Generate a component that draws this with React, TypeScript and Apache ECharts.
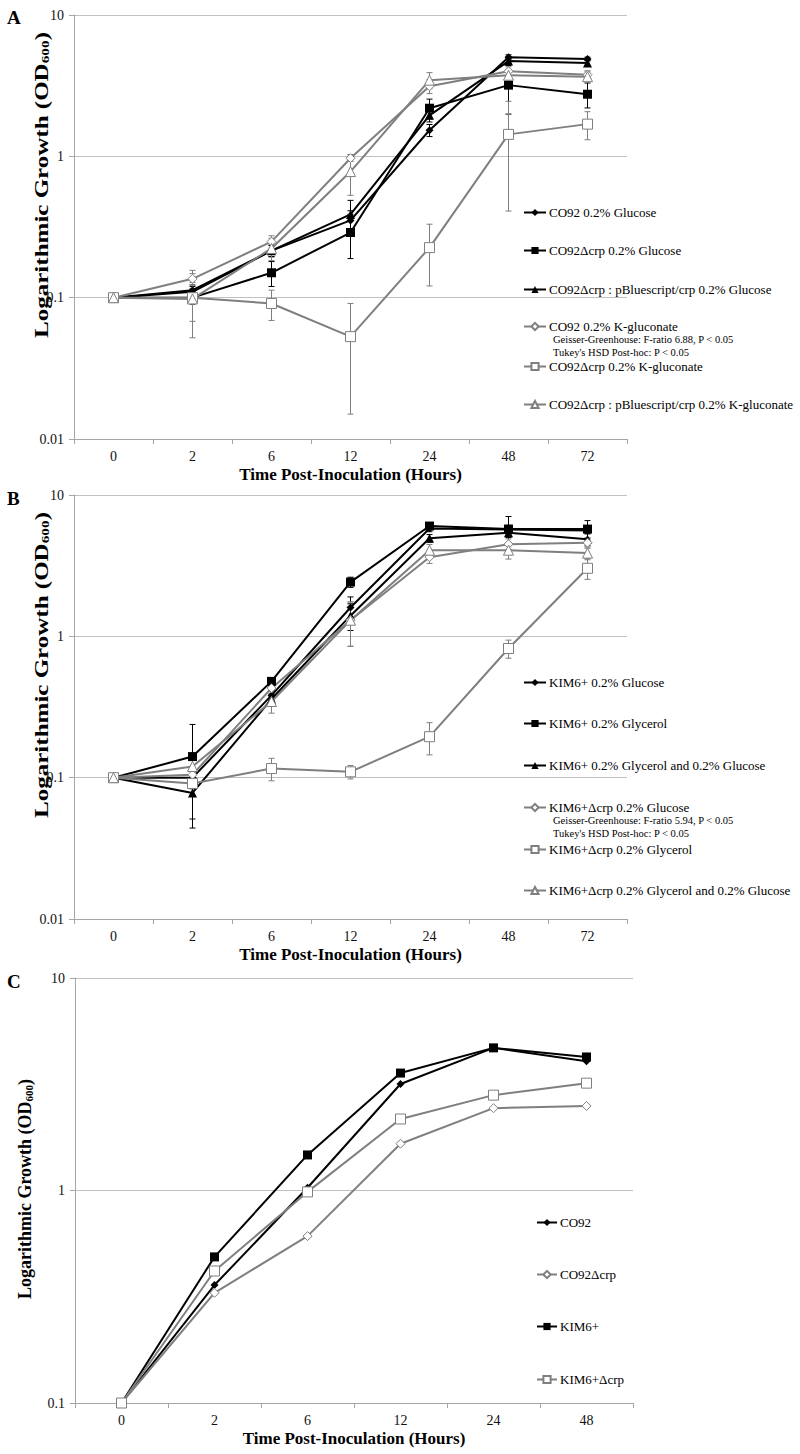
import React, { useEffect, useRef } from "react";
import * as echarts from "echarts";

// ---------- DATA ----------
const hoursAB = ["0", "2", "6", "12", "24", "48", "72"];
const hoursC = ["0", "2", "6", "12", "24", "48"];
const yTicksAB = [0.01, 0.1, 1, 10];
const yTicksC = [0.1, 1, 10];

// Panel A
const aCO92Glc = [0.1, 0.113, 0.215, 0.352, 1.53, 5.03, 4.88];
const aCrpGlc = [0.1, 0.1, 0.15, 0.289, 2.19, 3.19, 2.75];
const aCompGlc = [0.1, 0.11, 0.215, 0.388, 1.95, 4.72, 4.57];
const aCO92Kg = [0.1, 0.136, 0.249, 0.97, 3.13, 4.0, 3.78];
const aCrpKg = [0.1, 0.1, 0.091, 0.053, 0.226, 1.43, 1.69];
const aCompKg = [0.1, 0.098, 0.223, 0.78, 3.46, 3.75, 3.66];
const aCO92GlcSd = [0, 0.01, 0.02, 0.06, 0.15, 0.2, 0.15];
const aCrpGlcSd = [0, 0.01, 0.03, 0.1, 0.35, 1.2, 0.55];
const aCompGlcSd = [0, 0.01, 0.02, 0.1, 0.2, 0.2, 0.2];
const aCO92KgSd = [0, 0.02, 0.025, 0.05, 0.35, 0.3, 0.25];
const aCrpKgSd = [0, 0.048, 0.022, 0.038, 0.105, 1.02, 0.38];
const aCompKgSd = [0, 0.03, 0.04, 0.25, 0.45, 0.35, 0.3];

// Panel B
const bKimGlc = [0.1, 0.1, 0.382, 1.6, 5.8, 5.7, 5.6];
const bKimGly = [0.1, 0.141, 0.48, 2.42, 6.03, 5.74, 5.74];
const bKimGlyGlc = [0.1, 0.078, 0.36, 1.4, 4.95, 5.4, 4.87];
const bCrpGlc = [0.1, 0.105, 0.43, 1.3, 3.63, 4.49, 4.6];
const bCrpGly = [0.1, 0.091, 0.116, 0.11, 0.195, 0.82, 3.03];
const bCrpGlyGlc = [0.1, 0.12, 0.346, 1.3, 4.07, 4.07, 3.88];
const bKimGlcSd = [0, 0.005, 0.03, 0.3, 0.3, 0.4, 0.3];
const bKimGlySd = [0, 0.097, 0.03, 0.2, 0.3, 1.3, 0.85];
const bKimGlyGlcSd = [0, 0.027, 0.03, 0.3, 0.3, 0.4, 0.5];
const bCrpGlcSd = [0, 0.01, 0.04, 0.45, 0.35, 0.4, 0.4];
const bCrpGlySd = [0, 0.008, 0.021, 0.012, 0.05, 0.12, 0.5];
const bCrpGlyGlcSd = [0, 0.015, 0.06, 0.45, 0.4, 0.55, 0.4];

// Panel C
const cCO92 = [0.1, 0.359, 1.03, 3.17, 4.69, 4.06];
const cCO92crp = [0.1, 0.33, 0.61, 1.66, 2.44, 2.5];
const cKim = [0.1, 0.487, 1.47, 3.57, 4.69, 4.25];
const cKimCrp = [0.1, 0.418, 0.985, 2.17, 2.81, 3.2];

const namesA = [
  "CO92 0.2% Glucose",
  "CO92Δcrp 0.2% Glucose",
  "CO92Δcrp : pBluescript/crp 0.2% Glucose",
  "CO92 0.2% K-gluconate",
  "CO92Δcrp 0.2% K-gluconate",
  "CO92Δcrp : pBluescript/crp 0.2% K-gluconate",
];
const namesB = [
  "KIM6+ 0.2% Glucose",
  "KIM6+ 0.2% Glycerol",
  "KIM6+ 0.2% Glycerol and 0.2% Glucose",
  "KIM6+Δcrp 0.2% Glucose",
  "KIM6+Δcrp 0.2% Glycerol",
  "KIM6+Δcrp 0.2% Glycerol and 0.2% Glucose",
];
const namesC = ["CO92", "CO92Δcrp", "KIM6+", "KIM6+Δcrp"];
const statsA = ["Geisser-Greenhouse: F-ratio 6.88, P < 0.05", "Tukey's HSD Post-hoc: P < 0.05"];
const statsB = ["Geisser-Greenhouse: F-ratio 5.94, P < 0.05", "Tukey's HSD Post-hoc: P < 0.05"];

// ---------- STYLES ----------
const FONT = "Liberation Serif";
const BLACK = "#000000";
const GRAY = "#7f7f7f";
const GRID_C = "#c0c0c0";
const AXIS_C = "#a6a6a6";

type Sty = { color: string; symbol: string; size: number; open: boolean };
const stFD: Sty = { color: BLACK, symbol: "diamond", size: 8, open: false };
const stFS: Sty = { color: BLACK, symbol: "rect", size: 9, open: false };
const stFT: Sty = { color: BLACK, symbol: "triangle", size: 9, open: false };
const stOD: Sty = { color: GRAY, symbol: "diamond", size: 9, open: true };
const stOS: Sty = { color: GRAY, symbol: "rect", size: 10, open: true };
const stOT: Sty = { color: GRAY, symbol: "triangle", size: 10, open: true };

function lineSeries(name: string, data: number[], s: Sty, idx: number) {
  return {
    type: "line",
    name,
    data,
    xAxisIndex: idx,
    yAxisIndex: idx,
    symbol: s.symbol,
    symbolSize: s.size,
    showAllSymbol: true,
    z: 3,
    lineStyle: { color: s.color, width: 2 },
    itemStyle: s.open
      ? { color: "#ffffff", borderColor: s.color, borderWidth: 1 }
      : { color: s.color, borderColor: s.color, borderWidth: 0 },
    emphasis: { disabled: true },
  };
}

function errSeries(means: number[], sds: number[], color: string, idx: number) {
  const data: number[][] = [];
  means.forEach((m, i) => {
    if (sds[i] > 0) data.push([i, Math.max(m - sds[i], 0.0105), m + sds[i]]);
  });
  return {
    type: "custom",
    xAxisIndex: idx,
    yAxisIndex: idx,
    z: 2,
    silent: true,
    data,
    encode: { x: 0, y: [1, 2] },
    renderItem: (params: any, api: any) => {
      const x = api.value(0);
      const p1 = api.coord([x, api.value(2)]);
      const p2 = api.coord([x, api.value(1)]);
      const w = 3;
      const st = { stroke: color, lineWidth: 1 };
      return {
        type: "group",
        children: [
          { type: "line", shape: { x1: p1[0], y1: p1[1], x2: p2[0], y2: p2[1] }, style: st },
          { type: "line", shape: { x1: p1[0] - w, y1: p1[1], x2: p1[0] + w, y2: p1[1] }, style: st },
          { type: "line", shape: { x1: p2[0] - w, y1: p2[1], x2: p2[0] + w, y2: p2[1] }, style: st },
        ],
      };
    },
  };
}

function xAxis(cats: string[], idx: number, gap: number) {
  return {
    type: "category",
    gridIndex: idx,
    data: cats,
    boundaryGap: true,
    name: "Time Post-Inoculation (Hours)",
    nameLocation: "middle",
    nameGap: gap,
    nameTextStyle: { fontFamily: FONT, fontSize: 17, fontWeight: "bold", color: "#000" },
    axisLine: { show: true, lineStyle: { color: AXIS_C, width: 1 } },
    axisTick: { show: true, interval: 0, alignWithLabel: false, length: 5, lineStyle: { color: AXIS_C } },
    axisLabel: { interval: 0, margin: 10, fontFamily: FONT, fontSize: 14, color: "#111" },
    splitLine: { show: false },
  };
}

function yAxis(min: number, idx: number) {
  return {
    type: "log",
    logBase: 10,
    gridIndex: idx,
    min,
    max: 10,
    axisLine: { show: true, lineStyle: { color: AXIS_C, width: 1 } },
    axisTick: { show: true, inside: false, length: 5, lineStyle: { color: AXIS_C } },
    minorTick: { show: false },
    axisLabel: {
      margin: 10,
      fontFamily: FONT,
      fontSize: 14,
      color: "#111",
      formatter: (v: number) => String(Number(v.toPrecision(2))),
    },
    splitLine: { show: true, lineStyle: { color: GRID_C, width: 1 } },
  };
}

function legendItem(name: string, left: number, cy: number, w: number) {
  return {
    data: [name],
    left,
    top: cy - 7,
    padding: 0,
    itemWidth: w,
    itemHeight: 9,
    itemGap: 0,
    selectedMode: false,
    textStyle: { fontFamily: FONT, fontSize: 13, color: "#000", padding: [0, 0, 0, -2] },
  };
}

function yName(x: number, y: number, scale: number) {
  return {
    type: "text",
    x,
    y,
    rotation: Math.PI / 2,
    scaleX: scale,
    style: {
      text: "{a|Logarithmic Growth (OD}{s|600}{a|)}",
      align: "center",
      verticalAlign: "middle",
      rich: {
        a: { fontFamily: FONT, fontSize: 18, fontWeight: "bold", lineHeight: 20, fill: "#000", verticalAlign: "bottom" },
        s: { fontFamily: FONT, fontSize: 11, fontWeight: "bold", lineHeight: 11, fill: "#000", verticalAlign: "bottom" },
      },
    },
  };
}

function plainText(text: string, x: number, y: number, size: number, bold: boolean) {
  return {
    type: "text",
    x,
    y,
    style: {
      text,
      fontFamily: FONT,
      fontSize: size,
      fontWeight: bold ? "bold" : "normal",
      fill: "#000",
      verticalAlign: "middle",
      align: "left",
    },
  };
}

export default function App() {
  const ref = useRef<HTMLDivElement>(null);
  useEffect(() => {
    if (!ref.current) return;
    const chart = echarts.init(ref.current, null, { renderer: "svg" });

    const aSeries = [
      [aCO92Glc, aCO92GlcSd, stFD],
      [aCrpGlc, aCrpGlcSd, stFS],
      [aCompGlc, aCompGlcSd, stFT],
      [aCO92Kg, aCO92KgSd, stOD],
      [aCrpKg, aCrpKgSd, stOS],
      [aCompKg, aCompKgSd, stOT],
    ] as [number[], number[], Sty][];
    const bSeries = [
      [bKimGlc, bKimGlcSd, stFD],
      [bKimGly, bKimGlySd, stFS],
      [bKimGlyGlc, bKimGlyGlcSd, stFT],
      [bCrpGlc, bCrpGlcSd, stOD],
      [bCrpGly, bCrpGlySd, stOS],
      [bCrpGlyGlc, bCrpGlyGlcSd, stOT],
    ] as [number[], number[], Sty][];
    const cSeries = [
      [cCO92, stFD],
      [cCO92crp, stOD],
      [cKim, stFS],
      [cKimCrp, stOS],
    ] as [number[], Sty][];

    const series: any[] = [];
    aSeries.forEach(([d, sd, s]) => series.push(errSeries(d, sd, s.color, 0)));
    bSeries.forEach(([d, sd, s]) => series.push(errSeries(d, sd, s.color, 1)));
    aSeries.forEach(([d, sd, s], i) => series.push(lineSeries(namesA[i], d, s, 0)));
    bSeries.forEach(([d, sd, s], i) => series.push(lineSeries(namesB[i], d, s, 1)));
    cSeries.forEach(([d, s], i) => series.push(lineSeries(namesC[i], d, s, 2)));

    const legA = [213, 251, 290, 327, 367, 405];
    const legB = [683, 724, 766, 808, 850, 891];
    const legC = [1223, 1275, 1327, 1380];
    const legend = [
      ...namesA.map((n, i) => legendItem(n, 523, legA[i], 22)),
      ...namesB.map((n, i) => legendItem(n, 523, legB[i], 22)),
      ...namesC.map((n, i) => legendItem(n, 536, legC[i], 20)),
    ];

    chart.setOption({
      animation: false,
      backgroundColor: "#ffffff",
      textStyle: { fontFamily: FONT },
      grid: [
        { left: 74, top: 15, width: 553, height: 424 },
        { left: 74, top: 495, width: 553, height: 424 },
        { left: 75, top: 978, width: 558, height: 425 },
      ],
      xAxis: [xAxis(hoursAB, 0, 27), xAxis(hoursAB, 1, 27), xAxis(hoursC, 2, 27)],
      yAxis: [yAxis(yTicksAB[0], 0), yAxis(yTicksAB[0], 1), yAxis(yTicksC[0], 2)],
      legend,
      series,
      graphic: [
        plainText("A", 7, 17, 19, true),
        plainText("B", 7, 498, 19, true),
        plainText("C", 7, 981, 19, true),
        yName(41, 185, 1.39),
        yName(41, 665, 1.39),
        yName(24, 1189, 1.0),
        plainText(statsA[0], 553, 339, 10.5, false),
        plainText(statsA[1], 553, 352, 10.5, false),
        plainText(statsB[0], 553, 820, 10.5, false),
        plainText(statsB[1], 553, 833, 10.5, false),
      ],
    });
    return () => chart.dispose();
  }, []);
  return (
    <div
      ref={ref}
      style={{ position: "absolute", left: 0, top: 0, width: 800, height: 1454, background: "#fff" }}
    />
  );
}
